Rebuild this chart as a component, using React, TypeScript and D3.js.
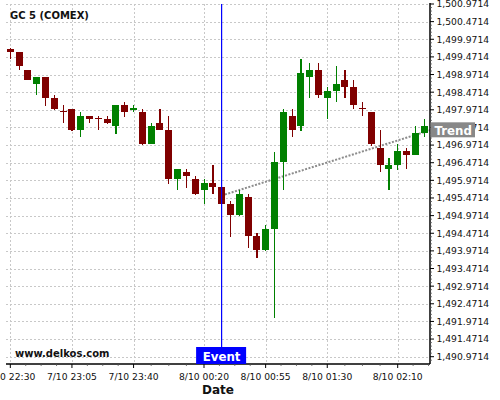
import React from "react";
import * as d3 from "d3";

// OHLC series (5-minute candles, index 0 = 7/10 22:30)
const opens = [
  1499.70, 1499.61, 1499.10, 1498.71, 1498.90, 1498.31, 1497.94, 1497.99, 1497.41, 1497.80,
  1497.75, 1497.71, 1497.52, 1498.11, 1497.99, 1497.92, 1497.00, 1497.60, 1497.41, 1496.02,
  1496.21, 1496.01, 1495.70, 1495.90, 1495.78, 1495.30, 1494.99, 1495.50, 1494.39, 1494.00,
  1494.59, 1496.50, 1497.80, 1497.51, 1498.90, 1499.10, 1498.31, 1498.50, 1498.82, 1498.62,
  1498.03, 1497.91, 1496.89, 1496.30, 1496.41, 1496.80, 1496.70, 1497.31,
];
const highs = [
  1499.72, 1499.62, 1499.10, 1498.90, 1498.90, 1498.38, 1498.10, 1497.99, 1497.90, 1497.80,
  1497.79, 1497.79, 1498.11, 1498.20, 1498.11, 1497.99, 1497.60, 1497.99, 1497.79, 1496.29,
  1496.29, 1496.09, 1496.00, 1496.40, 1495.78, 1495.39, 1495.70, 1495.59, 1494.48, 1494.71,
  1496.78, 1497.99, 1497.99, 1499.41, 1499.29, 1499.29, 1498.62, 1499.21, 1499.10, 1498.82,
  1498.18, 1497.91, 1497.39, 1496.60, 1496.99, 1496.88, 1497.51, 1497.71,
];
const lows = [
  1499.40, 1499.09, 1498.81, 1498.38, 1498.09, 1497.97, 1497.59, 1497.38, 1497.19, 1497.59,
  1497.40, 1497.57, 1497.29, 1497.78, 1497.90, 1496.97, 1497.00, 1497.40, 1495.88, 1495.69,
  1495.76, 1495.56, 1495.29, 1495.58, 1495.31, 1494.37, 1494.96, 1494.06, 1493.78, 1493.98,
  1492.06, 1495.70, 1497.19, 1497.38, 1498.30, 1498.30, 1497.70, 1498.18, 1498.30, 1497.99,
  1497.79, 1496.94, 1496.20, 1495.69, 1496.27, 1496.28, 1496.70, 1497.20,
];
const closes = [
  1499.62, 1499.22, 1498.83, 1498.90, 1498.32, 1497.99, 1497.93, 1497.41, 1497.80, 1497.71,
  1497.72, 1497.60, 1498.11, 1497.91, 1498.01, 1497.00, 1497.51, 1497.40, 1496.02, 1496.29,
  1496.09, 1495.58, 1495.90, 1495.78, 1495.31, 1494.99, 1495.59, 1494.40, 1494.00, 1494.59,
  1496.49, 1497.91, 1497.41, 1499.01, 1499.10, 1498.39, 1498.50, 1498.70, 1498.62, 1498.11,
  1498.01, 1497.00, 1496.41, 1496.41, 1496.80, 1496.70, 1497.31, 1497.51,
];

const xTickIdx = [0, 7, 14, 22, 29, 36, 44];
const xTickLabels = [
  "7/10 22:30", "7/10 23:05", "7/10 23:40", "8/10 00:20", "8/10 00:55", "8/10 01:30", "8/10 02:10",
];
const yTicks = [
  1490.9714, 1491.4714, 1491.9714, 1492.4714, 1492.9714, 1493.4714, 1493.9714,
  1494.4714, 1494.9714, 1495.4714, 1495.9714, 1496.4714, 1496.9714, 1497.4714,
  1497.9714, 1498.4714, 1498.9714, 1499.4714, 1499.9714, 1500.4714, 1500.9714,
];
const eventIdx = 24;
const trendIdx = [24, 47.67];
const trendVals = [1495.54, 1497.39];

const W = 500;
const H = 400;
const L = 6;
const R = 430;
const T = 4;
const B = 364;
const FONT = "DejaVu Sans";
const UP = "#008000";
const DOWN = "#800000";

export default function App() {
  const x = d3.scaleLinear().domain([-0.49, 47.67]).range([L, R]);
  const y = d3.scaleLinear().domain([1490.7643, 1500.9714]).range([B, T]);
  const fmt = d3.format(",.4f");

  // minor x ticks: 4 subdivisions per major interval
  const minorX: number[] = [];
  for (let k = 0; k < xTickIdx.length - 1; k++) {
    const a = xTickIdx[k];
    const b = xTickIdx[k + 1];
    for (let j = 1; j < 4; j++) minorX.push(a + ((b - a) * j) / 4);
  }
  {
    const step = (xTickIdx[1] - xTickIdx[0]) / 4;
    let p = xTickIdx[xTickIdx.length - 1] + step;
    while (p <= 47.67) {
      minorX.push(p);
      p += step;
    }
  }
  const minorY: number[] = [];
  for (let k = 0; k < yTicks.length - 1; k++) {
    for (let j = 1; j < 5; j++) minorY.push(yTicks[k] + (0.5 * j) / 5);
  }
  minorY.push(yTicks[0] - 0.1);

  const trendLine = d3
    .line<number>()
    .x((_, i) => x(trendIdx[i]))
    .y((d) => y(d))(trendVals);

  const trendEndY = y(trendVals[1]);
  const ex = x(eventIdx);

  return (
    <svg
      width={W}
      height={H}
      style={{ position: "absolute", left: 0, top: 0, background: "#fff" }}
      fontFamily={FONT}
    >
      <rect x={0} y={0} width={W} height={H} fill="#fff" />
      {/* grid */}
      <g stroke="#c8c8c8" strokeWidth={1} strokeDasharray="2,2" shapeRendering="crispEdges">
        {yTicks.map((t) => (
          <line key={"gy" + t} x1={L} x2={R} y1={Math.round(y(t)) + 0.5} y2={Math.round(y(t)) + 0.5} />
        ))}
        {xTickIdx.map((t) => (
          <line key={"gx" + t} x1={Math.round(x(t)) + 0.5} x2={Math.round(x(t)) + 0.5} y1={T} y2={B} />
        ))}
      </g>
      {/* trend */}
      <path d={trendLine || ""} fill="none" stroke="#8c8c8c" strokeWidth={2} strokeDasharray="2,1.5" />
      {/* candles */}
      <g shapeRendering="crispEdges">
        {opens.map((o, i) => {
          const c = closes[i];
          const col = c >= o ? UP : DOWN;
          const cx = x(i);
          const top = y(Math.max(o, c));
          const h = Math.max(1.3, Math.abs(y(o) - y(c)));
          return (
            <g key={"c" + i}>
              <rect x={cx - 0.5} y={y(highs[i])} width={1.2} height={y(lows[i]) - y(highs[i])} fill={col} />
              <rect x={cx - 3.5} y={top} width={7} height={h} fill={col} />
            </g>
          );
        })}
      </g>
      {/* event line */}
      <line x1={ex} x2={ex} y1={T} y2={B} stroke="#0000ff" strokeWidth={1.2} />
      {/* axes */}
      <g stroke="#000" fill="none">
        <line x1={R} x2={R} y1={T - 1} y2={B} strokeWidth={1.5} />
        <line x1={L} x2={R} y1={B} y2={B} strokeWidth={1.5} />
        {yTicks.map((t) => (
          <line key={"ty" + t} x1={R} x2={R + 4} y1={y(t)} y2={y(t)} strokeWidth={1} />
        ))}
        {minorY.map((t, i) => (
          <line key={"my" + i} x1={R} x2={R + 2} y1={y(t)} y2={y(t)} strokeWidth={0.8} stroke="#555" />
        ))}
        {xTickIdx.map((t) => (
          <line key={"tx" + t} x1={x(t)} x2={x(t)} y1={B} y2={B + 4} strokeWidth={1} />
        ))}
        {minorX.map((t, i) => (
          <line key={"mx" + i} x1={x(t)} x2={x(t)} y1={B} y2={B + 2} strokeWidth={0.8} stroke="#555" />
        ))}
      </g>
      {/* tick labels */}
      <g fontSize={9.2} fill="#111">
        {yTicks.map((t) => (
          <text key={"ly" + t} x={R + 6.5} y={y(t) + 3.4}>
            {fmt(t)}
          </text>
        ))}
        {xTickIdx.map((t, i) => (
          <text key={"lx" + t} x={x(t)} y={380} textAnchor="middle">
            {xTickLabels[i]}
          </text>
        ))}
      </g>
      {/* labels */}
      <text x={10} y={19} fontSize={10} fontWeight="bold" fill="#111">
        GC 5 (COMEX)
      </text>
      <text x={15} y={357} fontSize={10} fontWeight="bold" fill="#111">
        www.delkos.com
      </text>
      <text x={(L + R) / 2} y={394} fontSize={12} fontWeight="bold" fill="#111" textAnchor="middle">
        Date
      </text>
      {/* event box */}
      <rect x={ex - 25.5} y={347} width={50} height={17} fill="#0000ff" />
      <text x={ex} y={361} fontSize={11.8} fontWeight="bold" fill="#fff" textAnchor="middle">
        Event
      </text>
      {/* trend box */}
      <rect x={R + 0.5} y={trendEndY - 8} width={44.5} height={15} fill="#888888" />
      <text x={R + 4.5} y={trendEndY + 4.3} fontSize={11.8} fontWeight="bold" fill="#fff">
        Trend
      </text>
    </svg>
  );
}
